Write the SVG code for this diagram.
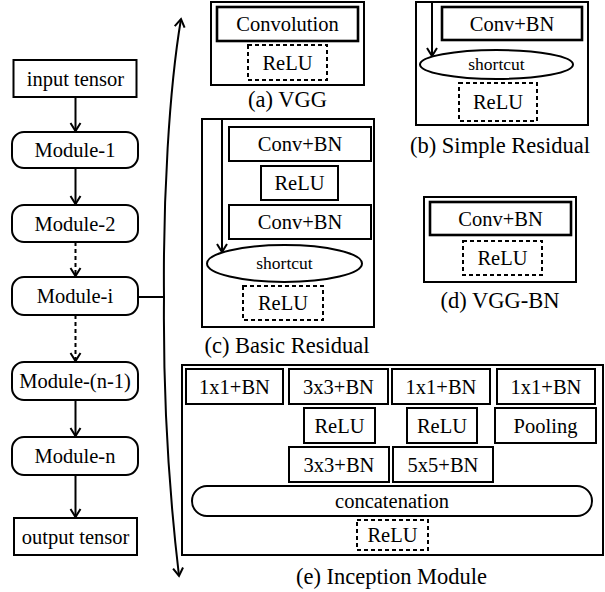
<svg xmlns="http://www.w3.org/2000/svg" width="605" height="592" viewBox="0 0 605 592" font-family="Liberation Serif, serif">
<style>
text{font-family:"Liberation Serif","Times New Roman",serif;fill:#000;text-anchor:middle}
.t{font-size:20.5px}
.c{font-size:22.5px}
.s{font-size:17.5px}
.b{fill:#fff;stroke:#000;stroke-width:2}
.bb{fill:#fff;stroke:#000;stroke-width:2.6}
.d{fill:#fff;stroke:#000;stroke-width:2;stroke-dasharray:4,3}
.l{fill:none;stroke:#000;stroke-width:2}
.ld{fill:none;stroke:#000;stroke-width:2;stroke-dasharray:4,3}
</style>
<defs>
<marker id="ah" markerUnits="userSpaceOnUse" markerWidth="14" markerHeight="14" viewBox="-10 -7 12 14" refX="0" refY="0" orient="auto">
<path d="M-8,-5 L0,0 L-8,5" fill="none" stroke="#000" stroke-width="2"/>
</marker>
</defs>
<rect width="605" height="592" fill="#fff"/>

<g id="connectors">
<line class="l" x1="75.5" y1="97" x2="75.5" y2="131" marker-end="url(#ah)"/>
<line class="l" x1="75.5" y1="168" x2="75.5" y2="204" marker-end="url(#ah)"/>
<line class="ld" x1="75.5" y1="242" x2="75.5" y2="276" marker-end="url(#ah)"/>
<line class="ld" x1="75.5" y1="315" x2="75.5" y2="361" marker-end="url(#ah)"/>
<line class="l" x1="75.5" y1="400" x2="75.5" y2="436" marker-end="url(#ah)"/>
<line class="l" x1="75.5" y1="475" x2="75.5" y2="517" marker-end="url(#ah)"/>
<line class="l" x1="138" y1="297" x2="165" y2="297"/>
<path class="l" d="M164,297 C163,200 169,90 181,19" marker-end="url(#ah)"/>
<path class="l" d="M164,297 C163,400 170,500 179,576" marker-end="url(#ah)"/>
</g>

<g id="input-tensor"><rect class="b" x="13.5" y="60" width="123" height="37"/><text class="t" x="75.5" y="85.5">input tensor</text></g>
<g id="module-1"><rect class="b" x="12" y="132" width="126" height="36" rx="12"/><text class="t" x="75" y="157">Module-1</text></g>
<g id="module-2"><rect class="b" x="12" y="205" width="126" height="37" rx="12"/><text class="t" x="75" y="230.5">Module-2</text></g>
<g id="module-i"><rect class="b" x="12" y="277" width="126" height="38" rx="12"/><text class="t" x="75" y="303">Module-i</text></g>
<g id="module-n-1"><rect class="b" x="12" y="362" width="126" height="38" rx="12"/><text class="t" x="75" y="388">Module-(n-1)</text></g>
<g id="module-n"><rect class="b" x="12" y="437" width="126" height="38" rx="12"/><text class="t" x="75" y="463">Module-n</text></g>
<g id="output-tensor"><rect class="b" x="14" y="518" width="123" height="37"/><text class="t" x="75.5" y="543.5">output tensor</text></g>

<g id="vgg">
<rect class="b" x="211" y="2" width="153" height="83"/>
<rect class="bb" x="217" y="7" width="141" height="34"/><text class="t" x="287.5" y="31">Convolution</text>
<rect class="d" x="248" y="45" width="79" height="35"/><text class="t" x="287.5" y="69.5">ReLU</text>
<text class="c" x="287.5" y="107">(a) VGG</text>
</g>

<g id="simple-residual">
<rect class="b" x="416" y="2" width="172" height="123"/>
<rect class="bb" x="442" y="7" width="140" height="33"/><text class="t" x="512" y="30.5">Conv+BN</text>
<line class="l" x1="432" y1="2" x2="432" y2="56" marker-end="url(#ah)"/>
<ellipse class="b" cx="496.5" cy="64.5" rx="76.5" ry="14.5"/><text class="s" x="496.5" y="70">shortcut</text>
<rect class="d" x="459" y="83" width="78" height="38"/><text class="t" x="498" y="109">ReLU</text>
<text class="c" x="500" y="153">(b) Simple Residual</text>
</g>

<g id="basic-residual">
<rect class="b" x="202" y="119" width="172" height="208"/>
<line class="l" x1="222" y1="119" x2="222" y2="252" marker-end="url(#ah)"/>
<rect class="b" x="229" y="127" width="142" height="34"/><text class="t" x="300" y="151">Conv+BN</text>
<rect class="b" x="261" y="166" width="77" height="34"/><text class="t" x="299.5" y="190">ReLU</text>
<rect class="b" x="229" y="205" width="142" height="34"/><text class="t" x="300" y="229">Conv+BN</text>
<ellipse class="b" cx="284.5" cy="263.5" rx="77.5" ry="18.5"/><text class="s" x="284.5" y="269">shortcut</text>
<rect class="d" x="243" y="286" width="80" height="34"/><text class="t" x="283" y="310">ReLU</text>
<text class="c" x="287" y="353">(c) Basic Residual</text>
</g>

<g id="vgg-bn">
<rect class="b" x="424" y="197" width="152" height="85"/>
<rect class="bb" x="430" y="202" width="141" height="33"/><text class="t" x="500.5" y="225.5">Conv+BN</text>
<rect class="d" x="463" y="241" width="79" height="34"/><text class="t" x="502.5" y="265">ReLU</text>
<text class="c" x="500" y="308">(d) VGG-BN</text>
</g>

<g id="inception">
<rect class="b" x="182" y="365" width="421" height="190"/>
<rect class="b" x="186" y="369" width="97" height="35"/><text class="t" x="234.5" y="393.5">1x1+BN</text>
<rect class="b" x="289" y="369" width="99" height="35"/><text class="t" x="338.5" y="393.5">3x3+BN</text>
<rect class="b" x="392" y="369" width="98" height="35"/><text class="t" x="441" y="393.5">1x1+BN</text>
<rect class="b" x="497" y="369" width="98" height="35"/><text class="t" x="546" y="393.5">1x1+BN</text>
<rect class="b" x="304" y="408" width="71" height="35"/><text class="t" x="339.5" y="432.5">ReLU</text>
<rect class="b" x="407" y="408" width="70" height="35"/><text class="t" x="442" y="432.5">ReLU</text>
<rect class="b" x="495" y="408" width="101" height="35"/><text class="t" x="545.5" y="432.5">Pooling</text>
<rect class="b" x="289" y="447" width="100" height="35"/><text class="t" x="339" y="471.5">3x3+BN</text>
<rect class="b" x="393" y="447" width="100" height="35"/><text class="t" x="443" y="471.5">5x5+BN</text>
<rect class="b" x="192" y="486" width="400" height="30" rx="15"/><text class="t" x="392" y="508">concatenation</text>
<rect class="d" x="357" y="520" width="71" height="30"/><text class="t" x="392.5" y="542">ReLU</text>
<text class="c" x="391.5" y="584">(e) Inception Module</text>
</g>
</svg>
